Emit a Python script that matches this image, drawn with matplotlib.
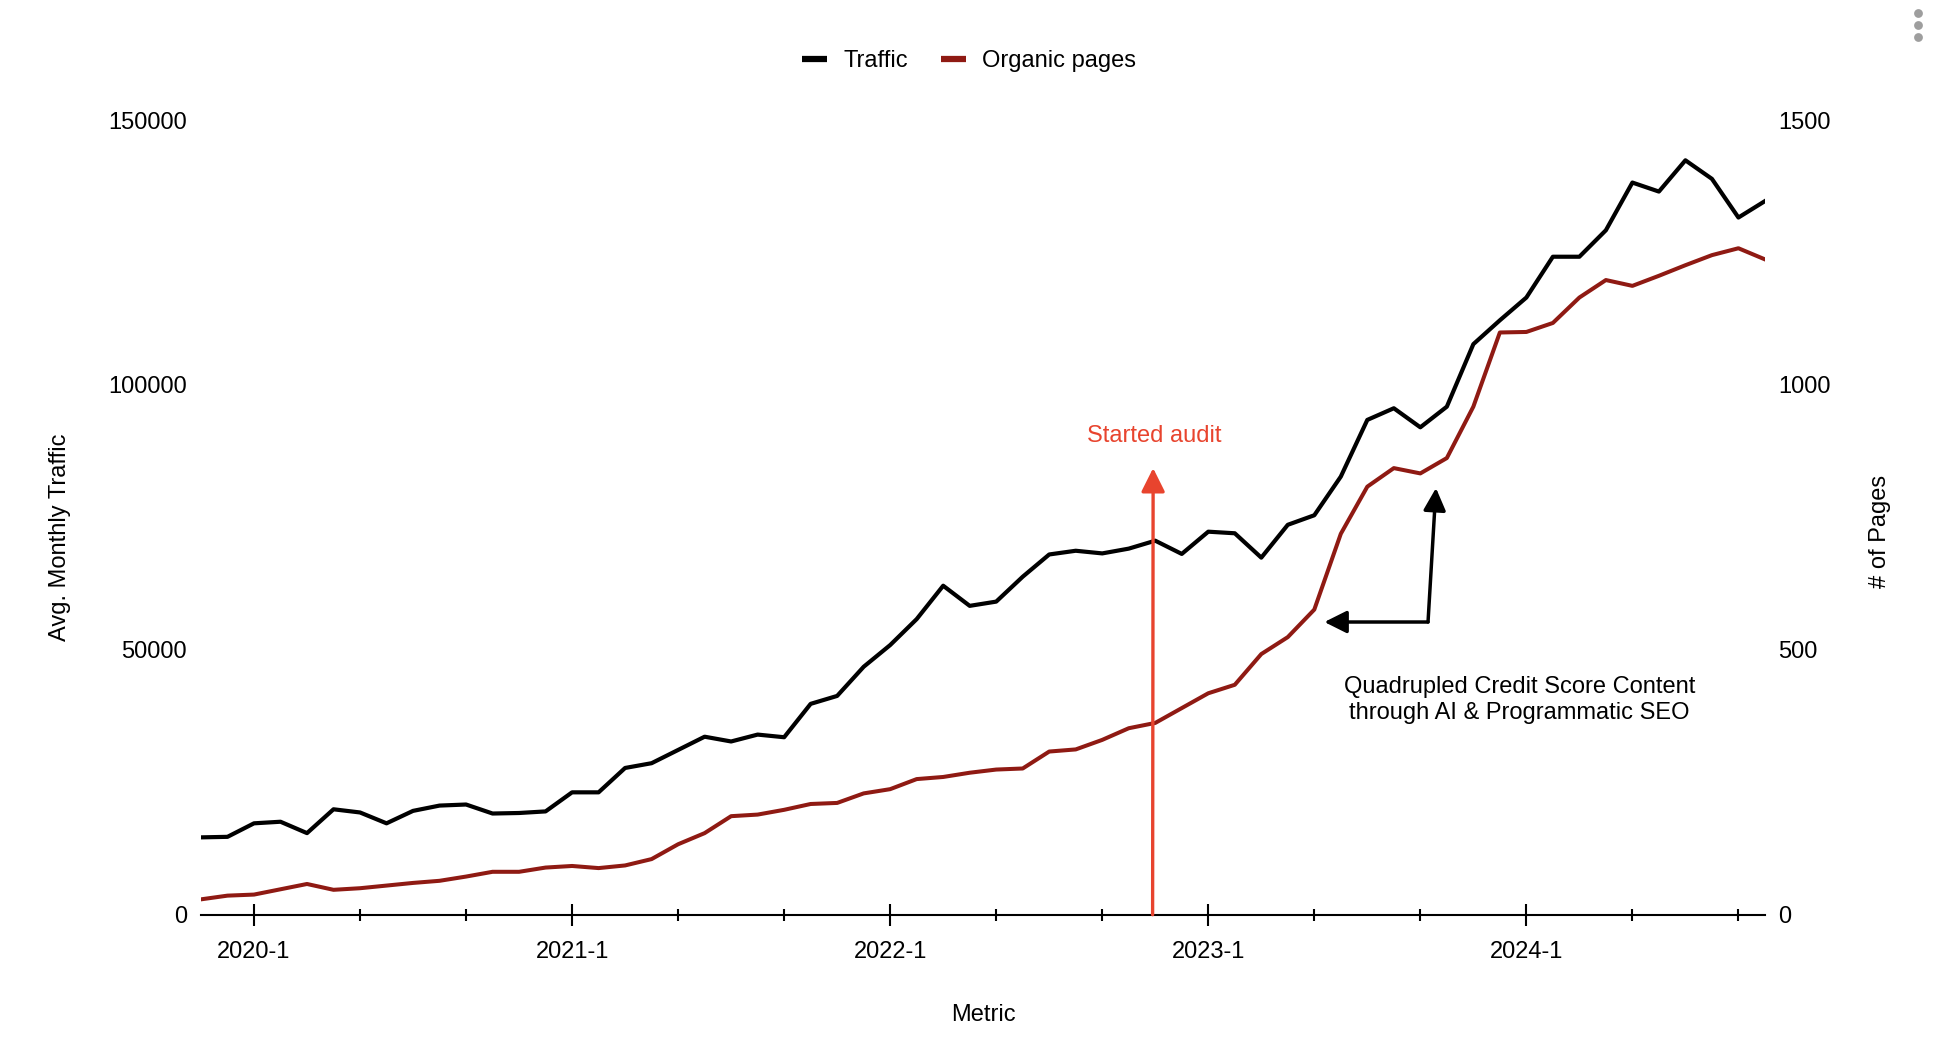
import matplotlib
matplotlib.use('Agg')
import matplotlib.pyplot as plt
from matplotlib.lines import Line2D

plt.rcParams['font.family'] = ['Liberation Sans', 'DejaVu Sans']

# monthly points, 2019-11 .. 2024-10
months = [f"{y}-{m}" for y in range(2019, 2025) for m in range(1, 13)][10:70]

traffic = [14600, 14700, 17250, 17550, 15400, 19900, 19300, 17250, 19600, 20600,
           20800, 19100, 19200, 19500, 23100, 23100, 27700, 28600, 31100, 33600,
           32700, 34000, 33500, 39800, 41300, 46800, 50900, 55800, 62100, 58300,
           59100, 63800, 68000, 68700, 68200, 69100, 70600, 68100, 72300, 72000,
           67400, 73600, 75400, 82700, 93400, 95600, 92000, 95900, 107700, 112200,
           116500, 124200, 124200, 129200, 138200, 136500, 142400, 138900, 131600, 134700]

organic_pages = [29, 36, 38, 48, 58, 47, 50, 55, 60, 64,
                 72, 81, 81, 89, 92, 88, 93, 105, 133, 154,
                 186, 189, 198, 209, 211, 229, 237, 256, 260, 268,
                 274, 276, 308, 312, 330, 352, 362, 390, 418, 434,
                 492, 524, 576, 719, 808, 843, 833, 862, 959, 1099,
                 1100, 1117, 1165, 1198, 1187, 1206, 1226, 1245, 1258, 1237]

traffic_ticks = [0, 50000, 100000, 150000]
pages_ticks = [0, 500, 1000, 1500]

RED = '#8f1a13'
AUDIT = '#e8442e'
FS = 17

x = list(range(len(months)))
major = [i for i, m in enumerate(months) if m.split('-')[1] == '1']
minor = [i for i, m in enumerate(months) if m.split('-')[1] in ('5', '9')]

fig = plt.figure(figsize=(19.38, 10.43), dpi=100)
ax = fig.add_axes([0.1037, 0.1230, 0.8070, 0.7619])
ax2 = ax.twinx()

ax.plot(x, traffic, color='black', lw=3.0, solid_joinstyle='round')
ax2.plot(x, organic_pages, color=RED, lw=2.9, solid_joinstyle='round')

ax.set_xlim(0, len(months) - 1)
ax.set_ylim(0, 150000)
ax2.set_ylim(0, 1500)

ax.set_xticks(major)
ax.set_xticklabels([months[i] for i in major])
ax.set_xticks(minor, minor=True)
ax.set_yticks(traffic_ticks)
ax.set_yticklabels([str(v) for v in traffic_ticks])
ax2.set_yticks(pages_ticks)
ax2.set_yticklabels([str(v) for v in pages_ticks])

for a in (ax, ax2):
    for s in a.spines.values():
        s.set_visible(False)
ax.spines['bottom'].set_visible(True)
ax.spines['bottom'].set_linewidth(1.5)

ax.tick_params(axis='x', which='major', direction='inout', length=16.5, width=1.5,
               pad=11, labelsize=FS)
ax.tick_params(axis='x', which='minor', direction='inout', length=8, width=1.5)
ax.tick_params(axis='y', length=0, pad=10, labelsize=FS)
ax2.tick_params(axis='y', length=0, pad=9.4, labelsize=FS)

fig.text(0.0312, 0.4851, 'Avg. Monthly Traffic', rotation=90, ha='center', va='center', fontsize=FS)
fig.text(0.9702, 0.4909, '# of Pages', rotation=90, ha='center', va='center', fontsize=FS)
fig.text(0.5072, 0.027, 'Metric', ha='center', va='center', fontsize=FS)

# annotations (traffic coordinates, drawn above both lines)
ax2.annotate('', xy=(35.92, 84300), xytext=(35.9, 0), xycoords=ax.transData,
             textcoords=ax.transData,
             arrowprops=dict(arrowstyle='-|>', color=AUDIT, lw=2.4, shrinkA=0, shrinkB=0,
                             mutation_scale=36))
ax2.text(35.95, 90350, 'Started audit', transform=ax.transData, color=AUDIT,
         ha='center', va='center', fontsize=FS)

ax2.annotate('', xy=(42.38, 55250), xytext=(46.29, 55250), xycoords=ax.transData,
             textcoords=ax.transData,
             arrowprops=dict(arrowstyle='-|>', color='black', lw=2.5, shrinkA=0, shrinkB=0,
                             mutation_scale=34))
ax2.annotate('', xy=(46.59, 80540), xytext=(46.29, 55250), xycoords=ax.transData,
             textcoords=ax.transData,
             arrowprops=dict(arrowstyle='-|>', color='black', lw=2.5, shrinkA=0, shrinkB=0,
                             mutation_scale=34))
ax2.text(49.75, 40520, 'Quadrupled Credit Score Content\nthrough AI & Programmatic SEO',
         transform=ax.transData, ha='center', va='center', multialignment='center',
         fontsize=FS, linespacing=1.22)

handles = [Line2D([], [], color='black', lw=4.5, solid_capstyle='butt'),
           Line2D([], [], color=RED, lw=4.5, solid_capstyle='butt')]
fig.legend(handles, ['Traffic', 'Organic pages'], loc='center', bbox_to_anchor=(0.5, 0.9415),
           ncol=2, frameon=False, fontsize=FS, handlelength=1.05, handletextpad=0.7,
           columnspacing=1.4)

# menu dots in the top-right corner
over = fig.add_axes([0, 0, 1, 1])
over.set_xlim(0, 1938)
over.set_ylim(1043, 0)
over.axis('off')
over.scatter([1918, 1918, 1918], [13, 25, 37], s=40, color='#9e9e9e', linewidths=0)

fig.savefig('out.png', dpi=100)
